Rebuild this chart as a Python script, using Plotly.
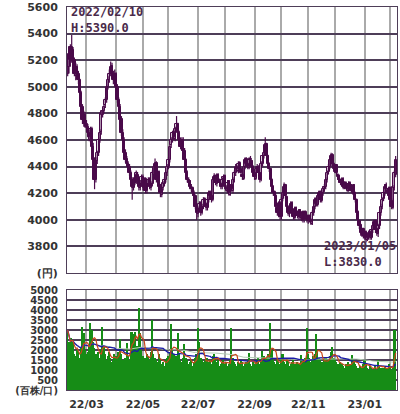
import plotly.graph_objects as go
import pandas as pd

# ---- data ----
month_labels = ["22/02", "22/03", "22/04", "22/05", "22/06", "22/07", "22/08",
                "22/09", "22/10", "22/11", "22/12", "23/01", "23/02"]
month_days = [14, 22, 20, 19, 22, 20, 22, 20, 20, 20, 22, 19, 5]

opens = [
    5100, 5150, 5300, 5200, 5280, 5200, 5080, 5150, 5100, 5050, 4950, 4850, 4730, 4790,
    4720, 4700, 4650, 4600, 4680, 4550, 4450, 4300, 4440, 4500, 4600, 4660, 4790, 4820, 4860, 4900, 5000, 5050, 5100, 5160, 5100, 5040,
    5100, 5000, 4900, 4850, 4760, 4650, 4600, 4500, 4460, 4420, 4400, 4350, 4300, 4240, 4310, 4280, 4340, 4300, 4240, 4270,
    4320, 4240, 4310, 4220, 4270, 4310, 4240, 4270, 4340, 4400, 4430, 4300, 4360, 4250, 4190, 4240, 4270, 4300, 4350,
    4400, 4450, 4560, 4600, 4660, 4610, 4680, 4720, 4650, 4600, 4540, 4600, 4520, 4450, 4350, 4300, 4290, 4250, 4240, 4200, 4180, 4100,
    4040, 4080, 4130, 4050, 4100, 4160, 4120, 4090, 4150, 4210, 4180, 4150, 4300, 4330, 4270, 4340, 4300, 4270, 4250, 4310,
    4330, 4240, 4220, 4290, 4190, 4260, 4220, 4300, 4350, 4400, 4370, 4430, 4380, 4340, 4310, 4400, 4460, 4420, 4390, 4460, 4440, 4400,
    4350, 4310, 4390, 4400, 4350, 4300, 4420, 4480, 4500, 4570, 4480, 4420, 4380, 4300, 4250, 4210, 4180, 4090, 4040, 4130,
    4020, 4160, 4200, 4260, 4170, 4100, 4040, 4090, 4130, 4050, 4010, 4090, 4060, 4020, 4070, 4010, 4060, 4000, 4060, 4030,
    3990, 4030, 4000, 3970, 4050, 4100, 4160, 4110, 4180, 4210, 4140, 4200, 4230, 4250, 4300, 4360, 4400, 4450, 4490, 4420,
    4370, 4410, 4340, 4330, 4300, 4270, 4310, 4240, 4280, 4260, 4220, 4280, 4260, 4210, 4260, 4200, 4150, 4060, 3990, 3960, 3890, 3930,
    3870, 3910, 3850, 3890, 3910, 3860, 3920, 3950, 3990, 3930, 3890, 3950, 4050, 4100, 4160, 4200, 4260, 4220, 4190,
    4240, 4140, 4090, 4240, 4340,
]
closes = [
    5150, 5250, 5200, 5300, 5200, 5100, 5150, 5100, 5050, 4950, 4850, 4750, 4780, 4720,
    4700, 4650, 4620, 4680, 4550, 4450, 4300, 4450, 4500, 4600, 4650, 4800, 4820, 4850, 4900, 5000, 5050, 5100, 5150, 5100, 5050, 5100,
    5000, 4900, 4850, 4750, 4650, 4600, 4500, 4450, 4420, 4400, 4350, 4300, 4250, 4300, 4280, 4350, 4300, 4250, 4280, 4320,
    4250, 4300, 4220, 4280, 4300, 4250, 4270, 4350, 4400, 4420, 4300, 4350, 4250, 4200, 4230, 4280, 4300, 4350, 4400,
    4450, 4550, 4600, 4650, 4620, 4680, 4720, 4650, 4600, 4550, 4600, 4520, 4450, 4350, 4300, 4280, 4250, 4230, 4200, 4180, 4100, 4050,
    4080, 4120, 4050, 4100, 4150, 4120, 4100, 4150, 4200, 4180, 4150, 4300, 4320, 4280, 4330, 4300, 4280, 4250, 4300, 4320,
    4250, 4230, 4280, 4200, 4250, 4230, 4300, 4350, 4400, 4380, 4420, 4380, 4350, 4320, 4400, 4450, 4420, 4400, 4450, 4450, 4400, 4350,
    4320, 4380, 4400, 4350, 4300, 4420, 4480, 4500, 4560, 4480, 4420, 4380, 4300, 4250, 4200, 4180, 4100, 4050, 4120, 4020,
    4150, 4200, 4250, 4180, 4100, 4050, 4080, 4120, 4050, 4020, 4080, 4050, 4030, 4060, 4020, 4050, 4000, 4050, 4030, 4000,
    4020, 4000, 3980, 4050, 4100, 4150, 4120, 4180, 4200, 4150, 4200, 4230, 4250, 4300, 4350, 4400, 4450, 4480, 4420, 4380,
    4400, 4350, 4320, 4300, 4280, 4300, 4250, 4270, 4250, 4230, 4270, 4250, 4220, 4250, 4200, 4150, 4050, 4000, 3950, 3900, 3920, 3880,
    3900, 3860, 3880, 3900, 3870, 3920, 3950, 3980, 3920, 3900, 3950, 4050, 4100, 4150, 4200, 4250, 4230, 4200, 4230,
    4150, 4100, 4250, 4350, 4450,
]
highs = [
    5200, 5300, 5320, 5390, 5300, 5220, 5180, 5170, 5120, 5060, 4970, 4870, 4820, 4810,
    4750, 4720, 4680, 4700, 4700, 4580, 4470, 4470, 4520, 4620, 4680, 4820, 4840, 4870, 4920, 5020, 5080, 5130, 5190, 5180, 5120, 5130,
    5110, 5020, 4920, 4870, 4780, 4680, 4620, 4530, 4480, 4440, 4420, 4370, 4320, 4320, 4330, 4370, 4360, 4320, 4300, 4340,
    4340, 4320, 4320, 4300, 4320, 4320, 4290, 4370, 4420, 4460, 4440, 4370, 4370, 4270, 4250, 4290, 4320, 4370, 4420,
    4470, 4570, 4620, 4670, 4680, 4700, 4780, 4730, 4670, 4620, 4620, 4620, 4540, 4460, 4370, 4320, 4300, 4270, 4250, 4220, 4190, 4120,
    4100, 4140, 4140, 4120, 4170, 4170, 4130, 4170, 4220, 4220, 4190, 4320, 4350, 4340, 4350, 4350, 4310, 4280, 4320, 4340,
    4340, 4260, 4300, 4300, 4270, 4270, 4320, 4370, 4420, 4410, 4440, 4440, 4390, 4350, 4420, 4470, 4470, 4430, 4470, 4480, 4450, 4410,
    4360, 4400, 4420, 4410, 4360, 4440, 4500, 4520, 4620, 4580, 4490, 4430, 4390, 4310, 4260, 4220, 4190, 4130, 4140, 4140,
    4170, 4220, 4280, 4270, 4180, 4110, 4100, 4140, 4140, 4060, 4100, 4100, 4070, 4080, 4080, 4060, 4070, 4070, 4070, 4040,
    4040, 4040, 4010, 4070, 4120, 4170, 4170, 4200, 4220, 4220, 4220, 4250, 4270, 4320, 4370, 4420, 4470, 4505, 4500, 4430,
    4420, 4420, 4350, 4340, 4310, 4320, 4320, 4290, 4290, 4270, 4290, 4290, 4270, 4260, 4270, 4210, 4160, 4070, 4000, 3970, 3940, 3940,
    3920, 3920, 3900, 3920, 3920, 3930, 3970, 4000, 4000, 3940, 3970, 4070, 4120, 4170, 4220, 4270, 4280, 4240, 4250,
    4250, 4160, 4260, 4370, 4480,
]
lows = [
    5080, 5100, 5150, 5180, 5150, 5080, 5050, 5060, 5020, 4930, 4830, 4720, 4700, 4690,
    4660, 4620, 4590, 4580, 4530, 4420, 4230, 4280, 4420, 4480, 4580, 4640, 4770, 4800, 4840, 4880, 4980, 5030, 5080, 5080, 5020, 5020,
    4980, 4880, 4830, 4720, 4630, 4580, 4480, 4430, 4400, 4380, 4330, 4280, 4150, 4220, 4260, 4270, 4280, 4220, 4220, 4250,
    4220, 4220, 4200, 4200, 4250, 4230, 4220, 4250, 4320, 4380, 4280, 4280, 4230, 4170, 4170, 4220, 4250, 4280, 4330,
    4380, 4430, 4540, 4580, 4600, 4590, 4660, 4630, 4580, 4530, 4520, 4500, 4430, 4330, 4280, 4260, 4230, 4210, 4180, 4160, 4080, 4000,
    4020, 4060, 4030, 4040, 4080, 4100, 4070, 4070, 4130, 4160, 4130, 4140, 4280, 4260, 4250, 4280, 4260, 4230, 4230, 4290,
    4230, 4210, 4200, 4180, 4180, 4210, 4200, 4280, 4330, 4360, 4350, 4360, 4330, 4300, 4300, 4380, 4400, 4380, 4380, 4430, 4380, 4330,
    4300, 4300, 4370, 4330, 4280, 4290, 4400, 4460, 4480, 4460, 4400, 4360, 4280, 4230, 4180, 4160, 4080, 4030, 4020, 4000,
    4000, 4140, 4180, 4160, 4080, 4030, 4020, 4070, 4040, 4000, 4000, 4030, 4010, 4000, 4000, 3990, 3980, 3980, 4010, 3980,
    3970, 3980, 3960, 3960, 4030, 4080, 4100, 4100, 4160, 4130, 4130, 4180, 4210, 4230, 4280, 4340, 4380, 4400, 4410, 4360,
    4350, 4330, 4300, 4280, 4260, 4260, 4230, 4230, 4230, 4210, 4210, 4230, 4200, 4190, 4180, 4130, 4030, 3980, 3930, 3880, 3870, 3860,
    3850, 3830, 3840, 3860, 3850, 3850, 3900, 3930, 3900, 3880, 3870, 3930, 4030, 4080, 4140, 4180, 4210, 4180, 4170,
    4130, 4080, 4080, 4220, 4320,
]
volumes = [
    3000, 2400, 1900, 2600, 2400, 1800, 1700, 2000, 1900, 1600, 2100, 3150, 2850, 2000,
    1800, 1900, 2200, 3350, 3000, 2400, 2100, 1800, 1700, 1900, 1600, 2000, 3150, 2200, 1800, 1500, 1700, 1900, 1600, 1400, 1500, 1800,
    1700, 1600, 1900, 2550, 1800, 1500, 1400, 1600, 2350, 1700, 1500, 2900, 2900, 2800, 2900, 1900, 2200, 4100, 2850, 2000,
    1700, 1500, 1600, 1800, 1700, 1500, 1900, 3500, 1800, 1600, 1500, 1400, 1800, 1500, 1300, 1400, 1200, 1500, 1600,
    1700, 1900, 3300, 2000, 1800, 1600, 1700, 2850, 1800, 1500, 1400, 1600, 2300, 1600, 1500, 1300, 1400, 1500, 1200, 1400, 1600, 1800,
    3100, 2400, 1600, 1500, 1400, 1500, 1300, 1600, 1400, 1500, 1300, 1700, 1800, 1600, 1400, 1500, 1200, 1300, 1400, 1500,
    1300, 1400, 1200, 1300, 1500, 3100, 1600, 1400, 1300, 1200, 1400, 1300, 1500, 1400, 1200, 1300, 1400, 1500, 1850, 1300, 1200, 1400,
    1300, 1400, 1500, 1600, 1300, 1400, 1950, 1700, 1500, 1600, 1800, 1700, 3350, 2000, 1500, 1400, 1300, 1500, 1400, 1300,
    1500, 1800, 1400, 1300, 1500, 1400, 1200, 1300, 1400, 1500, 1300, 1200, 1400, 1300, 1200, 1750, 1500, 1400, 1600, 3100,
    1800, 1600, 1400, 1500, 1700, 1800, 2800, 2000, 1600, 1500, 1400, 1300, 1500, 1600, 1400, 1500, 1700, 1900, 2150, 1600,
    1500, 1400, 1300, 1200, 1400, 1300, 1200, 1100, 1300, 1200, 1400, 1300, 1200, 1750, 1500, 1300, 1200, 1100, 1000, 1200, 1100, 1300,
    1500, 1300, 1100, 1000, 1200, 1100, 1000, 1100, 1200, 1000, 1500, 1200, 1100, 1000, 1100, 1200, 1000, 1100, 1300,
    1200, 1000, 1100, 3000, 3000,
]

price_ticks = [3600, 3800, 4000, 4200, 4400, 4600, 4800, 5000, 5200, 5400, 5600]
price_ticktext = ["(円)", "3800", "4000", "4200", "4400", "4600", "4800", "5000", "5200", "5400", "5600"]
vol_ticks = [0, 500, 1000, 1500, 2000, 2500, 3000, 3500, 4000, 4500, 5000]
vol_ticktext = ["(百株/口)", "500", "1000", "1500", "2000", "2500", "3000", "3500", "4000", "4500", "5000"]

high_note = "2022/02/10<br>H:5390.0"
low_note = "2023/01/05<br>L:3830.0"

# ---- build ----
n = min(len(opens), len(closes), len(highs), len(lows), len(volumes))
idx = list(range(n))
hi = [max(highs[i], opens[i], closes[i]) for i in idx]
lo = [min(lows[i], opens[i], closes[i]) for i in idx]

starts = []
acc = 0
for d in month_days:
    starts.append(acc)
    acc += d
tickvals = starts[1:]
ticktext = [month_labels[k] if k % 2 == 1 else "" for k in range(1, len(month_labels))]

vs = pd.Series(volumes[:n])
ma5 = vs.rolling(5, min_periods=1).mean()
ma25 = vs.rolling(25, min_periods=1).mean()
ma75 = vs.rolling(75, min_periods=1).mean()

CANDLE = "#4a0a4a"
UPFILL = "#e0d6e0"
GRID_H = "#4e3e58"
GRID_V = "#aaaaaa"
FONT = "DejaVu Sans"
TXT = "#333333"

fig = go.Figure()

# wicks
wx, wy = [], []
for i in idx:
    wx += [i, i, None]
    wy += [lo[i], hi[i], None]
fig.add_trace(go.Scatter(x=wx, y=wy, mode="lines", line=dict(color=CANDLE, width=1.2),
                         xaxis="x", yaxis="y", showlegend=False, hoverinfo="skip"))

# bodies
up = [i for i in idx if closes[i] >= opens[i]]
dn = [i for i in idx if closes[i] < opens[i]]
for sel, fill in ((up, UPFILL), (dn, CANDLE)):
    fig.add_trace(go.Bar(
        x=sel,
        base=[min(opens[i], closes[i]) for i in sel],
        y=[abs(closes[i] - opens[i]) for i in sel],
        width=1.7,
        marker=dict(color=fill, line=dict(color=CANDLE, width=1)),
        xaxis="x", yaxis="y", showlegend=False,
    ))

fig.add_trace(go.Bar(x=idx, y=volumes[:n], marker=dict(color="#168c16", line=dict(width=0)),
                     width=1.15, xaxis="x2", yaxis="y2", showlegend=False))
fig.add_trace(go.Scatter(x=idx, y=ma75, mode="lines", line=dict(color="#b4ccb4", width=1),
                         xaxis="x2", yaxis="y2", showlegend=False))
fig.add_trace(go.Scatter(x=idx, y=ma25, mode="lines", line=dict(color="#1a1aaa", width=1.3),
                         xaxis="x2", yaxis="y2", showlegend=False))
fig.add_trace(go.Scatter(x=idx, y=ma5, mode="lines", line=dict(color="#c8461a", width=1.2),
                         xaxis="x2", yaxis="y2", showlegend=False))

W, H = 400, 414
xdom = [67 / W, 397 / W]
xr = [-0.5, n]
common_x = dict(range=xr, tickvals=tickvals, showgrid=True, gridcolor=GRID_V, gridwidth=2,
                zeroline=False, showline=True, linecolor=GRID_H, linewidth=1, mirror=True,
                ticks="", fixedrange=True, automargin=False)
fig.update_layout(
    width=W, height=H, margin=dict(l=0, r=0, t=0, b=0, autoexpand=False),
    paper_bgcolor="white", plot_bgcolor="white",
    font=dict(family=FONT, size=11, color=TXT),
    barmode="overlay", bargap=0,
    xaxis=dict(domain=xdom, anchor="y", showticklabels=False, **common_x),
    yaxis=dict(domain=[1 - 273 / H, 1 - 7 / H], range=[3600, 5600], tickvals=price_ticks,
               ticktext=price_ticktext, showgrid=True, gridcolor=GRID_H, gridwidth=1.5,
               zeroline=False, showline=True, linecolor=GRID_H, linewidth=1, mirror=True,
               ticks="", ticklabelstandoff=6, fixedrange=True, automargin=False,
               tickfont=dict(family=FONT, size=11, color=TXT, weight="bold")),
    xaxis2=dict(domain=xdom, anchor="y2", ticktext=ticktext, showticklabels=True,
                tickfont=dict(family=FONT, size=11, color=TXT, weight="bold"),
                ticklabelstandoff=4, **common_x),
    yaxis2=dict(domain=[1 - 390 / H, 1 - 290 / H], range=[0, 5000], tickvals=vol_ticks,
                ticktext=vol_ticktext, showgrid=True, gridcolor=GRID_H, gridwidth=1.5,
                zeroline=False, showline=True, linecolor=GRID_H, linewidth=1, mirror=True,
                ticks="", ticklabelstandoff=6, fixedrange=True, automargin=False,
                tickfont=dict(family=FONT, size=10, color=TXT, weight="bold")),
    annotations=[
        dict(text=high_note, xref="paper", yref="paper", x=69 / W, y=1 - 3 / H,
             xanchor="left", yanchor="top", align="left", showarrow=False,
             font=dict(family="DejaVu Sans Mono", size=12, color="#4a2a4a", weight="bold")),
        dict(text=low_note, xref="paper", yref="paper", x=322 / W, y=1 - 237 / H,
             xanchor="left", yanchor="top", align="left", showarrow=False,
             font=dict(family="DejaVu Sans Mono", size=12, color="#4a2a4a", weight="bold")),
    ],
)
fig.write_html("out.html", config={"displayModeBar": False},
               post_script="document.body.style.margin='0px';")
